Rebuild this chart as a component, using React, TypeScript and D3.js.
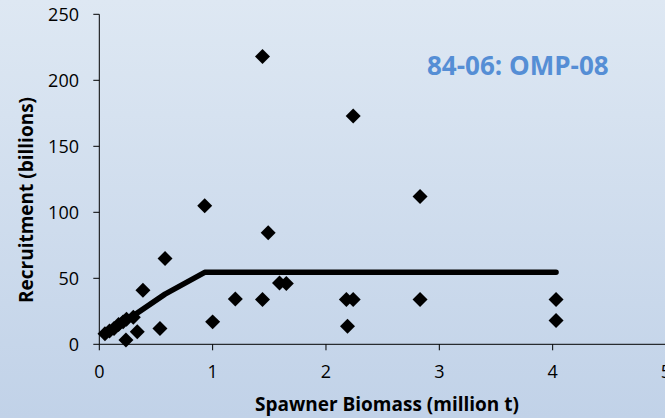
import React from "react";
import * as d3 from "d3";

const ssb: number[] = [1.44, 2.24, 2.83, 0.93, 1.49, 0.58, 1.59, 1.65, 0.385, 1.2, 1.44, 2.18, 2.24, 2.83, 4.03, 4.03, 1.0, 2.19, 0.535, 0.335, 0.235, 0.05, 0.09, 0.13, 0.17, 0.21, 0.24, 0.3];
const recruitment: number[] = [218, 173, 112, 105, 84.5, 65, 46.5, 46, 41, 34.3, 34, 34, 34, 34, 34, 18, 17, 13.6, 12, 9.5, 3.3, 8, 10, 12, 15, 17, 19, 20.5];

const lineSsb: number[] = [0.05, 0.58, 0.93, 4.03];
const lineRec: number[] = [7, 38, 54.5, 54.5];

const xTicks: number[] = [0, 1, 2, 3, 4, 5];
const yTicks: number[] = [0, 50, 100, 150, 200, 250];

const titleText = "84-06: OMP-08";
const xTitle = "Spawner Biomass (million t)";
const yTitle = "Recruitment (billions)";

const W = 665;
const H = 418;
const FONT = "'Open Sans', 'Noto Sans', sans-serif";

export default function App() {
  const x = d3.scaleLinear().domain([0, 5]).range([99.3, 666]);
  const y = d3.scaleLinear().domain([0, 250]).range([344.3, 14.3]);
  const line = d3
    .line<number>()
    .x((_, i) => x(lineSsb[i]))
    .y((_, i) => y(lineRec[i]));
  const diamond = d3.symbol().type(d3.symbolSquare).size(112)();

  return (
    <svg
      width={W}
      height={H}
      style={{ position: "fixed", left: 0, top: 0, display: "block" }}
      fontFamily={FONT}
    >
      <defs>
        <linearGradient id="bg" x1="0" y1="0" x2="0" y2="1">
          <stop offset="0" stopColor="#dee8f3" />
          <stop offset="1" stopColor="#c1d2e8" />
        </linearGradient>
      </defs>
      <rect x={0} y={0} width={W} height={H} fill="url(#bg)" />

      {/* axes */}
      <line x1={x(0)} x2={x(0)} y1={y(250)} y2={y(0)} stroke="#000" strokeWidth={1} />
      <line x1={x(0)} x2={x(5)} y1={y(0)} y2={y(0)} stroke="#000" strokeWidth={1} />
      {yTicks.map((t) => (
        <g key={"y" + t}>
          <line x1={x(0) - 6} x2={x(0)} y1={y(t)} y2={y(t)} stroke="#000" strokeWidth={1} />
          <text x={79} y={y(t) + 6.8} textAnchor="end" fontSize={18} fill="#000">
            {t}
          </text>
        </g>
      ))}
      {xTicks.map((t) => (
        <g key={"x" + t}>
          <line x1={x(t)} x2={x(t)} y1={y(0)} y2={y(0) + 6} stroke="#000" strokeWidth={1} />
          <text x={x(t)} y={377.7} textAnchor="middle" fontSize={18} fill="#000">
            {t}
          </text>
        </g>
      ))}

      {/* axis titles */}
      <text x={387} y={410.7} textAnchor="middle" fontSize={19} fontWeight="bold" fill="#000">
        {xTitle}
      </text>
      <text
        transform="translate(33,200) rotate(-90)"
        textAnchor="middle"
        fontSize={19}
        fontWeight="bold"
        fill="#000"
      >
        {yTitle}
      </text>

      {/* points */}
      {ssb.map((s, i) => (
        <path
          key={"p" + i}
          d={diamond as string}
          transform={`translate(${x(s)},${y(recruitment[i])}) rotate(45)`}
          fill="#000"
        />
      ))}

      {/* fitted line */}
      <path
        d={line(lineSsb) as string}
        fill="none"
        stroke="#000"
        strokeWidth={5.5}
        strokeLinejoin="round"
        strokeLinecap="round"
      />

      {/* title */}
      <text x={427} y={75} fontSize={26} fontWeight="bold" fill="#558ED5">
        {titleText}
      </text>
    </svg>
  );
}
